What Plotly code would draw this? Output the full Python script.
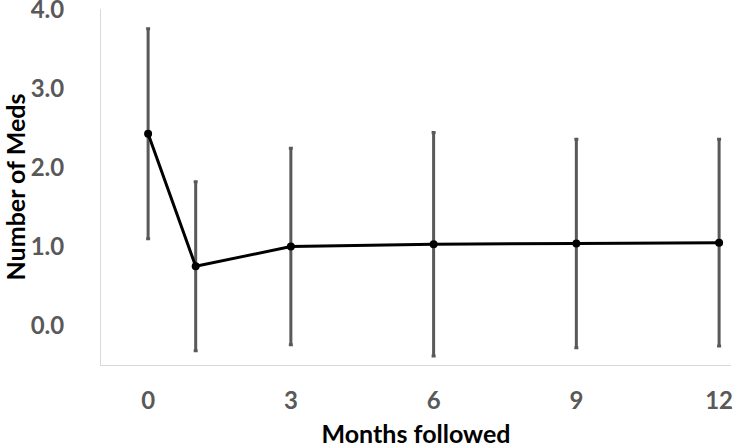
import plotly.graph_objects as go

months = [0, 1, 3, 6, 9, 12]
mean_meds = [2.43, 0.75, 1.00, 1.03, 1.04, 1.05]
sd_meds = [1.33, 1.07, 1.245, 1.415, 1.32, 1.31]
x_ticks = [0, 3, 6, 9, 12]
y_ticks = [0, 1, 2, 3, 4]
y_tick_text = ["0.0", "1.0", "2.0", "3.0", "4.0"]

fig = go.Figure()
fig.add_trace(go.Scatter(
    x=months, y=mean_meds,
    mode="lines+markers",
    line=dict(color="black", width=3),
    marker=dict(color="black", size=8),
    error_y=dict(type="data", array=sd_meds, visible=True,
                 color="#595959", thickness=3, width=2),
    showlegend=False,
    cliponaxis=False,
))

FONT = "Lato, Open Sans, sans-serif"
tick_font = dict(family=FONT, size=24, color="#595959", weight="bold")
xtitle_font = dict(family=FONT, size=25, color="black", weight="bold")
ytitle_font = dict(family=FONT, size=25, color="black", weight="bold")

fig.update_layout(
    width=735, height=448,
    margin=dict(l=101, r=4, t=9, b=83),
    paper_bgcolor="white", plot_bgcolor="white",
    xaxis=dict(
        range=[-0.99, 12.25], tickvals=x_ticks, ticktext=[str(v) for v in x_ticks],
        showgrid=False, zeroline=False, automargin=False,
        showline=True, linecolor="#d9d9d9", linewidth=1,
        ticks="outside", ticklen=14, tickcolor="rgba(0,0,0,0)",
        tickfont=tick_font, ticklabeloverflow="allow",
        title=dict(text="Months followed", font=xtitle_font, standoff=38),
    ),
    yaxis=dict(
        range=[-0.5, 4.01], tickvals=y_ticks, ticktext=y_tick_text,
        showgrid=False, zeroline=False, automargin=False,
        showline=True, linecolor="#d9d9d9", linewidth=1,
        ticks="outside", ticklen=31, tickcolor="rgba(0,0,0,0)",
        tickfont=tick_font, ticklabeloverflow="allow",
        title=dict(text="Number of Meds", font=ytitle_font, standoff=27),
    ),
)

fig.write_html("out.html", config={"displayModeBar": False},
               post_script="document.body.style.margin='0';")
